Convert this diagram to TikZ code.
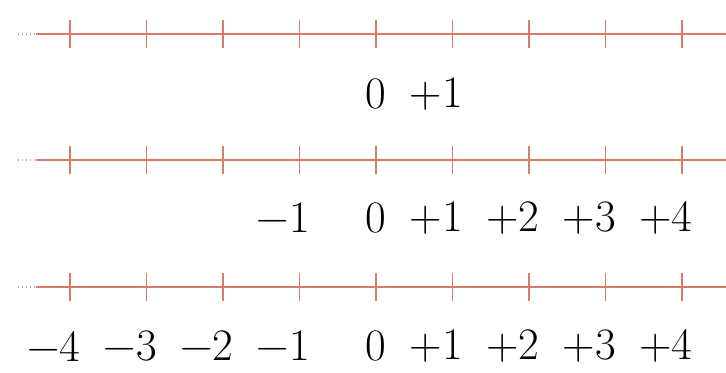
\documentclass[tikz,border=0pt]{standalone}
\usepackage{tikz}
\usetikzlibrary{positioning}
\definecolor{axisred}{RGB}{218,122,104}
\newcommand{\lsign}[1]{\llap{#1}}

\begin{document}
\begin{tikzpicture}[x=0.025cm, y=-0.025cm,
  axis/.style={draw=axisred, line width=1.1pt},
  lead/.style={draw=black!30, dotted, line width=0.8pt},
  tickmark/.style={draw=axisred, line width=1.2pt},
  num/.style={font=\fontsize{32}{37}\selectfont, inner sep=0pt}
]
\useasboundingbox (0,0) rectangle (726,373);
% three number lines, ticks one unit apart
\foreach \n/\y in {a/34, b/160, c/287} {
  \coordinate (\n s) at (18,\y);
  \coordinate (\n m) at (36,\y);
  \coordinate (\n e) at (726,\y);
  \draw[lead] (\n s) -- (\n m);
  \draw[axis] (\n m) -- (\n e);
  \foreach \k in {0,...,8} {
    \coordinate (\n t\k) at (70+76.5*\k,\y);
    \draw[tickmark] ([yshift=0.35cm]\n t\k) -- ([yshift=-0.35cm]\n t\k);
  }
}
% labels
\node[num] (a4) at ([yshift=-1.49cm]at4) {0};
\node[num] (a5) at ([yshift=-1.49cm]at5) {\lsign{+}1};
\foreach \k/\t in {3/{\lsign{−}1}, 4/0, 5/{\lsign{+}1}, 6/{\lsign{+}2}, 7/{\lsign{+}3}, 8/{\lsign{+}4}}
  \node[num] (b\k) at ([yshift=-1.45cm]bt\k) {\t};
\foreach \k/\t in {0/{\lsign{−}4}, 1/{\lsign{−}3}, 2/{\lsign{−}2}, 3/{\lsign{−}1}, 4/0, 5/{\lsign{+}1}, 6/{\lsign{+}2}, 7/{\lsign{+}3}, 8/{\lsign{+}4}}
  \node[num] (c\k) at ([yshift=-1.475cm]ct\k) {\t};
\end{tikzpicture}
\end{document}
